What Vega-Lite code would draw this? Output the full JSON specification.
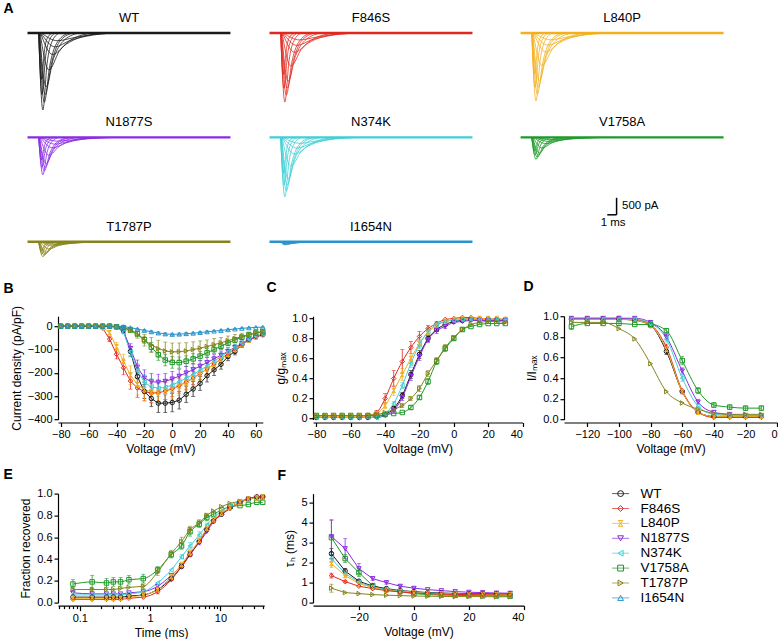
{
"$schema":"https://vega.github.io/schema/vega-lite/v6.json",
"background":"white",
"padding":{"left":3,"top":2,"right":0,"bottom":0},
"config":{"font":"Liberation Sans","view":{"stroke":null},
"axis":{"domainColor":"black","domainWidth":1.2,"tickColor":"black","tickWidth":1.2,"tickSize":4,"labelFontSize":11,"labelColor":"black","titleFontSize":12,"titleFontWeight":"normal","titleColor":"black","grid":false,"labelPadding":2,"titlePadding":4,"labelFont":"Liberation Sans","titleFont":"Liberation Sans"},
"title":{"fontSize":14,"fontWeight":"bold","anchor":"start","frame":"group","color":"black","font":"Liberation Sans"}},
"title":{"text":"A","dx":-54.5,"offset":-4},
"columns":3,
"align":{"row":"each","column":"none"},
"bounds":"flush",
"spacing":{"row":73.4,"column":40},
"datasets":{
"base":[{"g":"WT","t":0,"t2":21.8,"i":0},{"g":"F846S","t":0,"t2":21.8,"i":0},{"g":"L840P","t":0,"t2":21.8,"i":0},{"g":"N1877S","t":0,"t2":21.8,"i":0},{"g":"N374K","t":0,"t2":21.8,"i":0},{"g":"V1758A","t":0,"t2":21.8,"i":0},{"g":"T1787P","t":0,"t2":21.8,"i":0},{"g":"I1654N","t":0,"t2":21.8,"i":0}],
"sb":[{"t":9.31,"t2":10.31,"i":794,"i2":794},{"t":10.31,"t2":10.31,"i":794,"i2":1294}],
"sbt":[{"t":10.9,"i":1059,"label":"500 pA"},{"t":8.6,"i":559,"label":"1 ms"}],
"names":[{"g":"WT"},{"g":"F846S"},{"g":"L840P"},{"g":"N1877S"},{"g":"N374K"},{"g":"V1758A"},{"g":"T1787P"},{"g":"I1654N"}],
"tr":[
{"g":"WT","k":"a","t":1.2,"i":0},{"g":"WT","k":"a","t":1.65,"i":-2265},{"g":"WT","k":"a","t":2.1,"i":-906},{"g":"WT","k":"a","t":2.6,"i":-272},{"g":"WT","k":"a","t":3.4,"i":0},
{"g":"WT","k":"b","t":1.2,"i":0},{"g":"WT","k":"b","t":1.55,"i":-1812},{"g":"WT","k":"b","t":1.95,"i":-680},{"g":"WT","k":"b","t":2.4,"i":-181},{"g":"WT","k":"b","t":3.0,"i":0},
{"g":"WT","k":"c","t":1.25,"i":0},{"g":"WT","k":"c","t":1.8,"i":-2039},{"g":"WT","k":"c","t":2.4,"i":-951},{"g":"WT","k":"c","t":3.1,"i":-317},{"g":"WT","k":"c","t":4.4,"i":0},
{"g":"WT","k":"d","t":1.3,"i":0},{"g":"WT","k":"d","t":2.0,"i":-1586},{"g":"WT","k":"d","t":2.8,"i":-747},{"g":"WT","k":"d","t":3.8,"i":-249},{"g":"WT","k":"d","t":5.5,"i":0},
{"g":"WT","k":"e","t":1.35,"i":0},{"g":"WT","k":"e","t":2.3,"i":-1087},{"g":"WT","k":"e","t":3.4,"i":-544},{"g":"WT","k":"e","t":4.8,"i":-181},{"g":"WT","k":"e","t":7.0,"i":0},
{"g":"WT","k":"f","t":1.4,"i":0},{"g":"WT","k":"f","t":2.7,"i":-634},{"g":"WT","k":"f","t":4.1,"i":-340},{"g":"WT","k":"f","t":5.8,"i":-113},{"g":"WT","k":"f","t":8.5,"i":0},
{"g":"WT","k":"g","t":1.5,"i":0},{"g":"WT","k":"g","t":3.2,"i":-227},{"g":"WT","k":"g","t":5.0,"i":-136},{"g":"WT","k":"g","t":7.0,"i":-45},{"g":"WT","k":"g","t":10,"i":0},
{"g":"WT","k":"h","t":1.2,"i":0},{"g":"WT","k":"h","t":1.5,"i":-1359},{"g":"WT","k":"h","t":1.85,"i":-453},{"g":"WT","k":"h","t":2.2,"i":-113},{"g":"WT","k":"h","t":2.7,"i":0},
{"g":"WT","k":"i","t":1.28,"i":0},{"g":"WT","k":"i","t":1.9,"i":-1812},{"g":"WT","k":"i","t":2.6,"i":-861},{"g":"WT","k":"i","t":3.4,"i":-272},{"g":"WT","k":"i","t":4.8,"i":0},
{"g":"WT","k":"j","t":1.45,"i":0},{"g":"WT","k":"j","t":2.95,"i":-408},{"g":"WT","k":"j","t":4.5,"i":-227},{"g":"WT","k":"j","t":6.4,"i":-91},{"g":"WT","k":"j","t":9.2,"i":0},
{"g":"F846S","k":"a","t":1.2,"i":0},{"g":"F846S","k":"a","t":1.65,"i":-2030},{"g":"F846S","k":"a","t":2.1,"i":-812},{"g":"F846S","k":"a","t":2.6,"i":-244},{"g":"F846S","k":"a","t":3.4,"i":0},
{"g":"F846S","k":"b","t":1.2,"i":0},{"g":"F846S","k":"b","t":1.55,"i":-1624},{"g":"F846S","k":"b","t":1.95,"i":-609},{"g":"F846S","k":"b","t":2.4,"i":-162},{"g":"F846S","k":"b","t":3.0,"i":0},
{"g":"F846S","k":"c","t":1.25,"i":0},{"g":"F846S","k":"c","t":1.8,"i":-1827},{"g":"F846S","k":"c","t":2.4,"i":-853},{"g":"F846S","k":"c","t":3.1,"i":-284},{"g":"F846S","k":"c","t":4.4,"i":0},
{"g":"F846S","k":"d","t":1.3,"i":0},{"g":"F846S","k":"d","t":2.0,"i":-1421},{"g":"F846S","k":"d","t":2.8,"i":-670},{"g":"F846S","k":"d","t":3.8,"i":-223},{"g":"F846S","k":"d","t":5.5,"i":0},
{"g":"F846S","k":"e","t":1.35,"i":0},{"g":"F846S","k":"e","t":2.3,"i":-974},{"g":"F846S","k":"e","t":3.4,"i":-487},{"g":"F846S","k":"e","t":4.8,"i":-162},{"g":"F846S","k":"e","t":7.0,"i":0},
{"g":"F846S","k":"f","t":1.4,"i":0},{"g":"F846S","k":"f","t":2.7,"i":-568},{"g":"F846S","k":"f","t":4.1,"i":-305},{"g":"F846S","k":"f","t":5.8,"i":-102},{"g":"F846S","k":"f","t":8.5,"i":0},
{"g":"F846S","k":"g","t":1.5,"i":0},{"g":"F846S","k":"g","t":3.2,"i":-203},{"g":"F846S","k":"g","t":5.0,"i":-122},{"g":"F846S","k":"g","t":7.0,"i":-41},{"g":"F846S","k":"g","t":10,"i":0},
{"g":"F846S","k":"h","t":1.2,"i":0},{"g":"F846S","k":"h","t":1.5,"i":-1218},{"g":"F846S","k":"h","t":1.85,"i":-406},{"g":"F846S","k":"h","t":2.2,"i":-102},{"g":"F846S","k":"h","t":2.7,"i":0},
{"g":"F846S","k":"i","t":1.28,"i":0},{"g":"F846S","k":"i","t":1.9,"i":-1624},{"g":"F846S","k":"i","t":2.6,"i":-771},{"g":"F846S","k":"i","t":3.4,"i":-244},{"g":"F846S","k":"i","t":4.8,"i":0},
{"g":"F846S","k":"j","t":1.45,"i":0},{"g":"F846S","k":"j","t":2.95,"i":-365},{"g":"F846S","k":"j","t":4.5,"i":-203},{"g":"F846S","k":"j","t":6.4,"i":-81},{"g":"F846S","k":"j","t":9.2,"i":0},
{"g":"L840P","k":"a","t":1.2,"i":0},{"g":"L840P","k":"a","t":1.65,"i":-2000},{"g":"L840P","k":"a","t":2.1,"i":-800},{"g":"L840P","k":"a","t":2.6,"i":-240},{"g":"L840P","k":"a","t":3.4,"i":0},
{"g":"L840P","k":"b","t":1.2,"i":0},{"g":"L840P","k":"b","t":1.55,"i":-1600},{"g":"L840P","k":"b","t":1.95,"i":-600},{"g":"L840P","k":"b","t":2.4,"i":-160},{"g":"L840P","k":"b","t":3.0,"i":0},
{"g":"L840P","k":"c","t":1.25,"i":0},{"g":"L840P","k":"c","t":1.8,"i":-1800},{"g":"L840P","k":"c","t":2.4,"i":-840},{"g":"L840P","k":"c","t":3.1,"i":-280},{"g":"L840P","k":"c","t":4.4,"i":0},
{"g":"L840P","k":"d","t":1.3,"i":0},{"g":"L840P","k":"d","t":2.0,"i":-1400},{"g":"L840P","k":"d","t":2.8,"i":-660},{"g":"L840P","k":"d","t":3.8,"i":-220},{"g":"L840P","k":"d","t":5.5,"i":0},
{"g":"L840P","k":"e","t":1.35,"i":0},{"g":"L840P","k":"e","t":2.3,"i":-960},{"g":"L840P","k":"e","t":3.4,"i":-480},{"g":"L840P","k":"e","t":4.8,"i":-160},{"g":"L840P","k":"e","t":7.0,"i":0},
{"g":"L840P","k":"f","t":1.4,"i":0},{"g":"L840P","k":"f","t":2.7,"i":-560},{"g":"L840P","k":"f","t":4.1,"i":-300},{"g":"L840P","k":"f","t":5.8,"i":-100},{"g":"L840P","k":"f","t":8.5,"i":0},
{"g":"L840P","k":"g","t":1.5,"i":0},{"g":"L840P","k":"g","t":3.2,"i":-200},{"g":"L840P","k":"g","t":5.0,"i":-120},{"g":"L840P","k":"g","t":7.0,"i":-40},{"g":"L840P","k":"g","t":10,"i":0},
{"g":"L840P","k":"h","t":1.2,"i":0},{"g":"L840P","k":"h","t":1.5,"i":-1200},{"g":"L840P","k":"h","t":1.85,"i":-400},{"g":"L840P","k":"h","t":2.2,"i":-100},{"g":"L840P","k":"h","t":2.7,"i":0},
{"g":"L840P","k":"i","t":1.28,"i":0},{"g":"L840P","k":"i","t":1.9,"i":-1600},{"g":"L840P","k":"i","t":2.6,"i":-760},{"g":"L840P","k":"i","t":3.4,"i":-240},{"g":"L840P","k":"i","t":4.8,"i":0},
{"g":"L840P","k":"j","t":1.45,"i":0},{"g":"L840P","k":"j","t":2.95,"i":-360},{"g":"L840P","k":"j","t":4.5,"i":-200},{"g":"L840P","k":"j","t":6.4,"i":-80},{"g":"L840P","k":"j","t":9.2,"i":0},
{"g":"N1877S","k":"a","t":1.2,"i":0},{"g":"N1877S","k":"a","t":1.65,"i":-1100},{"g":"N1877S","k":"a","t":2.1,"i":-440},{"g":"N1877S","k":"a","t":2.6,"i":-132},{"g":"N1877S","k":"a","t":3.4,"i":0},
{"g":"N1877S","k":"b","t":1.2,"i":0},{"g":"N1877S","k":"b","t":1.55,"i":-880},{"g":"N1877S","k":"b","t":1.95,"i":-330},{"g":"N1877S","k":"b","t":2.4,"i":-88},{"g":"N1877S","k":"b","t":3.0,"i":0},
{"g":"N1877S","k":"c","t":1.25,"i":0},{"g":"N1877S","k":"c","t":1.8,"i":-990},{"g":"N1877S","k":"c","t":2.4,"i":-462},{"g":"N1877S","k":"c","t":3.1,"i":-154},{"g":"N1877S","k":"c","t":4.4,"i":0},
{"g":"N1877S","k":"d","t":1.3,"i":0},{"g":"N1877S","k":"d","t":2.0,"i":-770},{"g":"N1877S","k":"d","t":2.8,"i":-363},{"g":"N1877S","k":"d","t":3.8,"i":-121},{"g":"N1877S","k":"d","t":5.5,"i":0},
{"g":"N1877S","k":"e","t":1.35,"i":0},{"g":"N1877S","k":"e","t":2.3,"i":-528},{"g":"N1877S","k":"e","t":3.4,"i":-264},{"g":"N1877S","k":"e","t":4.8,"i":-88},{"g":"N1877S","k":"e","t":7.0,"i":0},
{"g":"N1877S","k":"f","t":1.4,"i":0},{"g":"N1877S","k":"f","t":2.7,"i":-308},{"g":"N1877S","k":"f","t":4.1,"i":-165},{"g":"N1877S","k":"f","t":5.8,"i":-55},{"g":"N1877S","k":"f","t":8.5,"i":0},
{"g":"N1877S","k":"g","t":1.5,"i":0},{"g":"N1877S","k":"g","t":3.2,"i":-110},{"g":"N1877S","k":"g","t":5.0,"i":-66},{"g":"N1877S","k":"g","t":7.0,"i":-22},{"g":"N1877S","k":"g","t":10,"i":0},
{"g":"N1877S","k":"h","t":1.2,"i":0},{"g":"N1877S","k":"h","t":1.5,"i":-660},{"g":"N1877S","k":"h","t":1.85,"i":-220},{"g":"N1877S","k":"h","t":2.2,"i":-55},{"g":"N1877S","k":"h","t":2.7,"i":0},
{"g":"N1877S","k":"i","t":1.28,"i":0},{"g":"N1877S","k":"i","t":1.9,"i":-880},{"g":"N1877S","k":"i","t":2.6,"i":-418},{"g":"N1877S","k":"i","t":3.4,"i":-132},{"g":"N1877S","k":"i","t":4.8,"i":0},
{"g":"N1877S","k":"j","t":1.45,"i":0},{"g":"N1877S","k":"j","t":2.95,"i":-198},{"g":"N1877S","k":"j","t":4.5,"i":-110},{"g":"N1877S","k":"j","t":6.4,"i":-44},{"g":"N1877S","k":"j","t":9.2,"i":0},
{"g":"N374K","k":"a","t":1.2,"i":0},{"g":"N374K","k":"a","t":1.65,"i":-1750},{"g":"N374K","k":"a","t":2.1,"i":-700},{"g":"N374K","k":"a","t":2.6,"i":-210},{"g":"N374K","k":"a","t":3.4,"i":0},
{"g":"N374K","k":"b","t":1.2,"i":0},{"g":"N374K","k":"b","t":1.55,"i":-1400},{"g":"N374K","k":"b","t":1.95,"i":-525},{"g":"N374K","k":"b","t":2.4,"i":-140},{"g":"N374K","k":"b","t":3.0,"i":0},
{"g":"N374K","k":"c","t":1.25,"i":0},{"g":"N374K","k":"c","t":1.8,"i":-1575},{"g":"N374K","k":"c","t":2.4,"i":-735},{"g":"N374K","k":"c","t":3.1,"i":-245},{"g":"N374K","k":"c","t":4.4,"i":0},
{"g":"N374K","k":"d","t":1.3,"i":0},{"g":"N374K","k":"d","t":2.0,"i":-1225},{"g":"N374K","k":"d","t":2.8,"i":-578},{"g":"N374K","k":"d","t":3.8,"i":-193},{"g":"N374K","k":"d","t":5.5,"i":0},
{"g":"N374K","k":"e","t":1.35,"i":0},{"g":"N374K","k":"e","t":2.3,"i":-840},{"g":"N374K","k":"e","t":3.4,"i":-420},{"g":"N374K","k":"e","t":4.8,"i":-140},{"g":"N374K","k":"e","t":7.0,"i":0},
{"g":"N374K","k":"f","t":1.4,"i":0},{"g":"N374K","k":"f","t":2.7,"i":-490},{"g":"N374K","k":"f","t":4.1,"i":-263},{"g":"N374K","k":"f","t":5.8,"i":-88},{"g":"N374K","k":"f","t":8.5,"i":0},
{"g":"N374K","k":"g","t":1.5,"i":0},{"g":"N374K","k":"g","t":3.2,"i":-175},{"g":"N374K","k":"g","t":5.0,"i":-105},{"g":"N374K","k":"g","t":7.0,"i":-35},{"g":"N374K","k":"g","t":10,"i":0},
{"g":"N374K","k":"h","t":1.2,"i":0},{"g":"N374K","k":"h","t":1.5,"i":-1050},{"g":"N374K","k":"h","t":1.85,"i":-350},{"g":"N374K","k":"h","t":2.2,"i":-88},{"g":"N374K","k":"h","t":2.7,"i":0},
{"g":"N374K","k":"i","t":1.28,"i":0},{"g":"N374K","k":"i","t":1.9,"i":-1400},{"g":"N374K","k":"i","t":2.6,"i":-665},{"g":"N374K","k":"i","t":3.4,"i":-210},{"g":"N374K","k":"i","t":4.8,"i":0},
{"g":"N374K","k":"j","t":1.45,"i":0},{"g":"N374K","k":"j","t":2.95,"i":-315},{"g":"N374K","k":"j","t":4.5,"i":-175},{"g":"N374K","k":"j","t":6.4,"i":-70},{"g":"N374K","k":"j","t":9.2,"i":0},
{"g":"V1758A","k":"a","t":1.2,"i":0},{"g":"V1758A","k":"a","t":1.65,"i":-650},{"g":"V1758A","k":"a","t":2.1,"i":-260},{"g":"V1758A","k":"a","t":2.6,"i":-78},{"g":"V1758A","k":"a","t":3.4,"i":0},
{"g":"V1758A","k":"b","t":1.2,"i":0},{"g":"V1758A","k":"b","t":1.55,"i":-520},{"g":"V1758A","k":"b","t":1.95,"i":-195},{"g":"V1758A","k":"b","t":2.4,"i":-52},{"g":"V1758A","k":"b","t":3.0,"i":0},
{"g":"V1758A","k":"c","t":1.25,"i":0},{"g":"V1758A","k":"c","t":1.8,"i":-585},{"g":"V1758A","k":"c","t":2.4,"i":-273},{"g":"V1758A","k":"c","t":3.1,"i":-91},{"g":"V1758A","k":"c","t":4.4,"i":0},
{"g":"V1758A","k":"d","t":1.3,"i":0},{"g":"V1758A","k":"d","t":2.0,"i":-455},{"g":"V1758A","k":"d","t":2.8,"i":-215},{"g":"V1758A","k":"d","t":3.8,"i":-72},{"g":"V1758A","k":"d","t":5.5,"i":0},
{"g":"V1758A","k":"e","t":1.35,"i":0},{"g":"V1758A","k":"e","t":2.3,"i":-312},{"g":"V1758A","k":"e","t":3.4,"i":-156},{"g":"V1758A","k":"e","t":4.8,"i":-52},{"g":"V1758A","k":"e","t":7.0,"i":0},
{"g":"V1758A","k":"f","t":1.4,"i":0},{"g":"V1758A","k":"f","t":2.7,"i":-182},{"g":"V1758A","k":"f","t":4.1,"i":-98},{"g":"V1758A","k":"f","t":5.8,"i":-33},{"g":"V1758A","k":"f","t":8.5,"i":0},
{"g":"V1758A","k":"g","t":1.5,"i":0},{"g":"V1758A","k":"g","t":3.2,"i":-65},{"g":"V1758A","k":"g","t":5.0,"i":-39},{"g":"V1758A","k":"g","t":7.0,"i":-13},{"g":"V1758A","k":"g","t":10,"i":0},
{"g":"V1758A","k":"h","t":1.2,"i":0},{"g":"V1758A","k":"h","t":1.5,"i":-390},{"g":"V1758A","k":"h","t":1.85,"i":-130},{"g":"V1758A","k":"h","t":2.2,"i":-33},{"g":"V1758A","k":"h","t":2.7,"i":0},
{"g":"V1758A","k":"i","t":1.28,"i":0},{"g":"V1758A","k":"i","t":1.9,"i":-520},{"g":"V1758A","k":"i","t":2.6,"i":-247},{"g":"V1758A","k":"i","t":3.4,"i":-78},{"g":"V1758A","k":"i","t":4.8,"i":0},
{"g":"V1758A","k":"j","t":1.45,"i":0},{"g":"V1758A","k":"j","t":2.95,"i":-117},{"g":"V1758A","k":"j","t":4.5,"i":-65},{"g":"V1758A","k":"j","t":6.4,"i":-26},{"g":"V1758A","k":"j","t":9.2,"i":0},
{"g":"T1787P","k":"a","t":1.2,"i":0},{"g":"T1787P","k":"a","t":1.65,"i":-440},{"g":"T1787P","k":"a","t":2.1,"i":-176},{"g":"T1787P","k":"a","t":2.6,"i":-53},{"g":"T1787P","k":"a","t":3.4,"i":0},
{"g":"T1787P","k":"b","t":1.2,"i":0},{"g":"T1787P","k":"b","t":1.55,"i":-352},{"g":"T1787P","k":"b","t":1.95,"i":-132},{"g":"T1787P","k":"b","t":2.4,"i":-35},{"g":"T1787P","k":"b","t":3.0,"i":0},
{"g":"T1787P","k":"c","t":1.25,"i":0},{"g":"T1787P","k":"c","t":1.8,"i":-396},{"g":"T1787P","k":"c","t":2.4,"i":-185},{"g":"T1787P","k":"c","t":3.1,"i":-62},{"g":"T1787P","k":"c","t":4.4,"i":0},
{"g":"T1787P","k":"d","t":1.3,"i":0},{"g":"T1787P","k":"d","t":2.0,"i":-308},{"g":"T1787P","k":"d","t":2.8,"i":-145},{"g":"T1787P","k":"d","t":3.8,"i":-48},{"g":"T1787P","k":"d","t":5.5,"i":0},
{"g":"T1787P","k":"e","t":1.35,"i":0},{"g":"T1787P","k":"e","t":2.3,"i":-211},{"g":"T1787P","k":"e","t":3.4,"i":-106},{"g":"T1787P","k":"e","t":4.8,"i":-35},{"g":"T1787P","k":"e","t":7.0,"i":0},
{"g":"T1787P","k":"f","t":1.4,"i":0},{"g":"T1787P","k":"f","t":2.7,"i":-123},{"g":"T1787P","k":"f","t":4.1,"i":-66},{"g":"T1787P","k":"f","t":5.8,"i":-22},{"g":"T1787P","k":"f","t":8.5,"i":0},
{"g":"T1787P","k":"g","t":1.5,"i":0},{"g":"T1787P","k":"g","t":3.2,"i":-44},{"g":"T1787P","k":"g","t":5.0,"i":-26},{"g":"T1787P","k":"g","t":7.0,"i":-9},{"g":"T1787P","k":"g","t":10,"i":0},
{"g":"T1787P","k":"h","t":1.2,"i":0},{"g":"T1787P","k":"h","t":1.5,"i":-264},{"g":"T1787P","k":"h","t":1.85,"i":-88},{"g":"T1787P","k":"h","t":2.2,"i":-22},{"g":"T1787P","k":"h","t":2.7,"i":0},
{"g":"T1787P","k":"i","t":1.28,"i":0},{"g":"T1787P","k":"i","t":1.9,"i":-352},{"g":"T1787P","k":"i","t":2.6,"i":-167},{"g":"T1787P","k":"i","t":3.4,"i":-53},{"g":"T1787P","k":"i","t":4.8,"i":0},
{"g":"T1787P","k":"j","t":1.45,"i":0},{"g":"T1787P","k":"j","t":2.95,"i":-79},{"g":"T1787P","k":"j","t":4.5,"i":-44},{"g":"T1787P","k":"j","t":6.4,"i":-18},{"g":"T1787P","k":"j","t":9.2,"i":0},
{"g":"I1654N","k":"a","t":1.2,"i":0},{"g":"I1654N","k":"a","t":1.65,"i":-90},{"g":"I1654N","k":"a","t":2.1,"i":-36},{"g":"I1654N","k":"a","t":2.6,"i":-11},{"g":"I1654N","k":"a","t":3.4,"i":0},
{"g":"I1654N","k":"b","t":1.2,"i":0},{"g":"I1654N","k":"b","t":1.55,"i":-72},{"g":"I1654N","k":"b","t":1.95,"i":-27},{"g":"I1654N","k":"b","t":2.4,"i":-7},{"g":"I1654N","k":"b","t":3.0,"i":0},
{"g":"I1654N","k":"c","t":1.25,"i":0},{"g":"I1654N","k":"c","t":1.8,"i":-81},{"g":"I1654N","k":"c","t":2.4,"i":-38},{"g":"I1654N","k":"c","t":3.1,"i":-13},{"g":"I1654N","k":"c","t":4.4,"i":0},
{"g":"I1654N","k":"d","t":1.3,"i":0},{"g":"I1654N","k":"d","t":2.0,"i":-63},{"g":"I1654N","k":"d","t":2.8,"i":-30},{"g":"I1654N","k":"d","t":3.8,"i":-10},{"g":"I1654N","k":"d","t":5.5,"i":0},
{"g":"I1654N","k":"e","t":1.35,"i":0},{"g":"I1654N","k":"e","t":2.3,"i":-43},{"g":"I1654N","k":"e","t":3.4,"i":-22},{"g":"I1654N","k":"e","t":4.8,"i":-7},{"g":"I1654N","k":"e","t":7.0,"i":0},
{"g":"I1654N","k":"f","t":1.4,"i":0},{"g":"I1654N","k":"f","t":2.7,"i":-25},{"g":"I1654N","k":"f","t":4.1,"i":-13},{"g":"I1654N","k":"f","t":5.8,"i":-4},{"g":"I1654N","k":"f","t":8.5,"i":0},
{"g":"I1654N","k":"h","t":1.2,"i":0},{"g":"I1654N","k":"h","t":1.5,"i":-54},{"g":"I1654N","k":"h","t":1.85,"i":-18},{"g":"I1654N","k":"h","t":2.2,"i":-5},{"g":"I1654N","k":"h","t":2.7,"i":0},
{"g":"I1654N","k":"i","t":1.28,"i":0},{"g":"I1654N","k":"i","t":1.9,"i":-72},{"g":"I1654N","k":"i","t":2.6,"i":-34},{"g":"I1654N","k":"i","t":3.4,"i":-11},{"g":"I1654N","k":"i","t":4.8,"i":0}
],
"iv":[
{"g":"WT","v":-80,"y":0,"e":0},{"g":"WT","v":-75,"y":0,"e":0},{"g":"WT","v":-70,"y":0,"e":0},{"g":"WT","v":-65,"y":0,"e":0},{"g":"WT","v":-60,"y":0,"e":0},{"g":"WT","v":-55,"y":0,"e":0},{"g":"WT","v":-50,"y":0,"e":0},{"g":"WT","v":-45,"y":0,"e":0},{"g":"WT","v":-40,"y":-3,"e":2},{"g":"WT","v":-35,"y":-19,"e":8},{"g":"WT","v":-30,"y":-108,"e":20},{"g":"WT","v":-25,"y":-216,"e":25},{"g":"WT","v":-20,"y":-280,"e":30},{"g":"WT","v":-15,"y":-310,"e":35},{"g":"WT","v":-10,"y":-330,"e":40},{"g":"WT","v":-5,"y":-330,"e":40},{"g":"WT","v":0,"y":-327,"e":40},{"g":"WT","v":5,"y":-317,"e":38},{"g":"WT","v":10,"y":-292,"e":35},{"g":"WT","v":15,"y":-269,"e":32},{"g":"WT","v":20,"y":-245,"e":30},{"g":"WT","v":25,"y":-212,"e":27},{"g":"WT","v":30,"y":-187,"e":24},{"g":"WT","v":35,"y":-163,"e":21},{"g":"WT","v":40,"y":-130,"e":18},{"g":"WT","v":45,"y":-108,"e":15},{"g":"WT","v":50,"y":-79,"e":12},{"g":"WT","v":55,"y":-58,"e":10},{"g":"WT","v":60,"y":-43,"e":8},{"g":"WT","v":65,"y":-36,"e":7},
{"g":"F846S","v":-80,"y":0,"e":0},{"g":"F846S","v":-75,"y":0,"e":0},{"g":"F846S","v":-70,"y":0,"e":0},{"g":"F846S","v":-65,"y":0,"e":0},{"g":"F846S","v":-60,"y":0,"e":0},{"g":"F846S","v":-55,"y":0,"e":0},{"g":"F846S","v":-50,"y":-8,"e":3},{"g":"F846S","v":-45,"y":-55,"e":10},{"g":"F846S","v":-40,"y":-120,"e":20},{"g":"F846S","v":-35,"y":-178,"e":30},{"g":"F846S","v":-30,"y":-235,"e":35},{"g":"F846S","v":-25,"y":-265,"e":40},{"g":"F846S","v":-20,"y":-280,"e":40},{"g":"F846S","v":-15,"y":-287,"e":40},{"g":"F846S","v":-10,"y":-285,"e":38},{"g":"F846S","v":-5,"y":-278,"e":36},{"g":"F846S","v":0,"y":-268,"e":34},{"g":"F846S","v":5,"y":-255,"e":32},{"g":"F846S","v":10,"y":-240,"e":30},{"g":"F846S","v":15,"y":-222,"e":28},{"g":"F846S","v":20,"y":-203,"e":26},{"g":"F846S","v":25,"y":-183,"e":24},{"g":"F846S","v":30,"y":-162,"e":22},{"g":"F846S","v":35,"y":-140,"e":20},{"g":"F846S","v":40,"y":-118,"e":17},{"g":"F846S","v":45,"y":-97,"e":15},{"g":"F846S","v":50,"y":-77,"e":12},{"g":"F846S","v":55,"y":-58,"e":10},{"g":"F846S","v":60,"y":-45,"e":8},{"g":"F846S","v":65,"y":-35,"e":7},
{"g":"L840P","v":-80,"y":0,"e":0},{"g":"L840P","v":-75,"y":0,"e":0},{"g":"L840P","v":-70,"y":0,"e":0},{"g":"L840P","v":-65,"y":0,"e":0},{"g":"L840P","v":-60,"y":0,"e":0},{"g":"L840P","v":-55,"y":0,"e":0},{"g":"L840P","v":-50,"y":-4,"e":2},{"g":"L840P","v":-45,"y":-28,"e":8},{"g":"L840P","v":-40,"y":-88,"e":18},{"g":"L840P","v":-35,"y":-150,"e":30},{"g":"L840P","v":-30,"y":-210,"e":40},{"g":"L840P","v":-25,"y":-250,"e":45},{"g":"L840P","v":-20,"y":-272,"e":48},{"g":"L840P","v":-15,"y":-282,"e":48},{"g":"L840P","v":-10,"y":-283,"e":46},{"g":"L840P","v":-5,"y":-278,"e":44},{"g":"L840P","v":0,"y":-270,"e":42},{"g":"L840P","v":5,"y":-256,"e":40},{"g":"L840P","v":10,"y":-240,"e":37},{"g":"L840P","v":15,"y":-222,"e":34},{"g":"L840P","v":20,"y":-203,"e":31},{"g":"L840P","v":25,"y":-183,"e":28},{"g":"L840P","v":30,"y":-163,"e":25},{"g":"L840P","v":35,"y":-142,"e":22},{"g":"L840P","v":40,"y":-120,"e":19},{"g":"L840P","v":45,"y":-99,"e":16},{"g":"L840P","v":50,"y":-79,"e":13},{"g":"L840P","v":55,"y":-60,"e":10},{"g":"L840P","v":60,"y":-46,"e":8},{"g":"L840P","v":65,"y":-36,"e":7},
{"g":"N1877S","v":-80,"y":0,"e":0},{"g":"N1877S","v":-75,"y":0,"e":0},{"g":"N1877S","v":-70,"y":0,"e":0},{"g":"N1877S","v":-65,"y":0,"e":0},{"g":"N1877S","v":-60,"y":0,"e":0},{"g":"N1877S","v":-55,"y":0,"e":0},{"g":"N1877S","v":-50,"y":0,"e":0},{"g":"N1877S","v":-45,"y":0,"e":0},{"g":"N1877S","v":-40,"y":-4,"e":2},{"g":"N1877S","v":-35,"y":-22,"e":8},{"g":"N1877S","v":-30,"y":-95,"e":20},{"g":"N1877S","v":-25,"y":-175,"e":30},{"g":"N1877S","v":-20,"y":-222,"e":35},{"g":"N1877S","v":-15,"y":-238,"e":35},{"g":"N1877S","v":-10,"y":-240,"e":34},{"g":"N1877S","v":-5,"y":-236,"e":33},{"g":"N1877S","v":0,"y":-226,"e":32},{"g":"N1877S","v":5,"y":-214,"e":30},{"g":"N1877S","v":10,"y":-200,"e":28},{"g":"N1877S","v":15,"y":-186,"e":26},{"g":"N1877S","v":20,"y":-171,"e":24},{"g":"N1877S","v":25,"y":-156,"e":22},{"g":"N1877S","v":30,"y":-140,"e":20},{"g":"N1877S","v":35,"y":-124,"e":18},{"g":"N1877S","v":40,"y":-108,"e":16},{"g":"N1877S","v":45,"y":-91,"e":14},{"g":"N1877S","v":50,"y":-75,"e":12},{"g":"N1877S","v":55,"y":-60,"e":10},{"g":"N1877S","v":60,"y":-47,"e":8},{"g":"N1877S","v":65,"y":-36,"e":7},
{"g":"N374K","v":-80,"y":0,"e":0},{"g":"N374K","v":-75,"y":0,"e":0},{"g":"N374K","v":-70,"y":0,"e":0},{"g":"N374K","v":-65,"y":0,"e":0},{"g":"N374K","v":-60,"y":0,"e":0},{"g":"N374K","v":-55,"y":0,"e":0},{"g":"N374K","v":-50,"y":0,"e":0},{"g":"N374K","v":-45,"y":0,"e":0},{"g":"N374K","v":-40,"y":-4,"e":2},{"g":"N374K","v":-35,"y":-25,"e":8},{"g":"N374K","v":-30,"y":-110,"e":22},{"g":"N374K","v":-25,"y":-190,"e":30},{"g":"N374K","v":-20,"y":-240,"e":34},{"g":"N374K","v":-15,"y":-260,"e":35},{"g":"N374K","v":-10,"y":-266,"e":35},{"g":"N374K","v":-5,"y":-262,"e":34},{"g":"N374K","v":0,"y":-252,"e":33},{"g":"N374K","v":5,"y":-238,"e":31},{"g":"N374K","v":10,"y":-223,"e":29},{"g":"N374K","v":15,"y":-207,"e":27},{"g":"N374K","v":20,"y":-189,"e":25},{"g":"N374K","v":25,"y":-170,"e":23},{"g":"N374K","v":30,"y":-150,"e":21},{"g":"N374K","v":35,"y":-130,"e":19},{"g":"N374K","v":40,"y":-110,"e":17},{"g":"N374K","v":45,"y":-91,"e":14},{"g":"N374K","v":50,"y":-72,"e":12},{"g":"N374K","v":55,"y":-56,"e":10},{"g":"N374K","v":60,"y":-43,"e":8},{"g":"N374K","v":65,"y":-33,"e":6},
{"g":"V1758A","v":-80,"y":0,"e":0},{"g":"V1758A","v":-75,"y":0,"e":0},{"g":"V1758A","v":-70,"y":0,"e":0},{"g":"V1758A","v":-65,"y":0,"e":0},{"g":"V1758A","v":-60,"y":0,"e":0},{"g":"V1758A","v":-55,"y":0,"e":0},{"g":"V1758A","v":-50,"y":0,"e":0},{"g":"V1758A","v":-45,"y":0,"e":0},{"g":"V1758A","v":-40,"y":-2,"e":1},{"g":"V1758A","v":-35,"y":-6,"e":3},{"g":"V1758A","v":-30,"y":-16,"e":6},{"g":"V1758A","v":-25,"y":-32,"e":10},{"g":"V1758A","v":-20,"y":-58,"e":15},{"g":"V1758A","v":-15,"y":-90,"e":20},{"g":"V1758A","v":-10,"y":-122,"e":24},{"g":"V1758A","v":-5,"y":-145,"e":25},{"g":"V1758A","v":0,"y":-155,"e":25},{"g":"V1758A","v":5,"y":-156,"e":24},{"g":"V1758A","v":10,"y":-150,"e":23},{"g":"V1758A","v":15,"y":-140,"e":22},{"g":"V1758A","v":20,"y":-128,"e":20},{"g":"V1758A","v":25,"y":-114,"e":18},{"g":"V1758A","v":30,"y":-100,"e":16},{"g":"V1758A","v":35,"y":-86,"e":14},{"g":"V1758A","v":40,"y":-72,"e":12},{"g":"V1758A","v":45,"y":-59,"e":10},{"g":"V1758A","v":50,"y":-47,"e":8},{"g":"V1758A","v":55,"y":-37,"e":7},{"g":"V1758A","v":60,"y":-29,"e":6},{"g":"V1758A","v":65,"y":-23,"e":5},
{"g":"T1787P","v":-80,"y":0,"e":0},{"g":"T1787P","v":-75,"y":0,"e":0},{"g":"T1787P","v":-70,"y":0,"e":0},{"g":"T1787P","v":-65,"y":0,"e":0},{"g":"T1787P","v":-60,"y":0,"e":0},{"g":"T1787P","v":-55,"y":0,"e":0},{"g":"T1787P","v":-50,"y":0,"e":0},{"g":"T1787P","v":-45,"y":0,"e":0},{"g":"T1787P","v":-40,"y":-3,"e":2},{"g":"T1787P","v":-35,"y":-7,"e":4},{"g":"T1787P","v":-30,"y":-18,"e":8},{"g":"T1787P","v":-25,"y":-36,"e":15},{"g":"T1787P","v":-20,"y":-60,"e":25},{"g":"T1787P","v":-15,"y":-80,"e":32},{"g":"T1787P","v":-10,"y":-96,"e":36},{"g":"T1787P","v":-5,"y":-106,"e":38},{"g":"T1787P","v":0,"y":-110,"e":38},{"g":"T1787P","v":5,"y":-109,"e":37},{"g":"T1787P","v":10,"y":-106,"e":35},{"g":"T1787P","v":15,"y":-100,"e":33},{"g":"T1787P","v":20,"y":-94,"e":31},{"g":"T1787P","v":25,"y":-87,"e":28},{"g":"T1787P","v":30,"y":-79,"e":26},{"g":"T1787P","v":35,"y":-71,"e":23},{"g":"T1787P","v":40,"y":-62,"e":20},{"g":"T1787P","v":45,"y":-53,"e":17},{"g":"T1787P","v":50,"y":-44,"e":14},{"g":"T1787P","v":55,"y":-36,"e":11},{"g":"T1787P","v":60,"y":-29,"e":9},{"g":"T1787P","v":65,"y":-23,"e":7},
{"g":"I1654N","v":-80,"y":0,"e":0},{"g":"I1654N","v":-75,"y":0,"e":0},{"g":"I1654N","v":-70,"y":0,"e":0},{"g":"I1654N","v":-65,"y":0,"e":0},{"g":"I1654N","v":-60,"y":0,"e":0},{"g":"I1654N","v":-55,"y":0,"e":0},{"g":"I1654N","v":-50,"y":0,"e":0},{"g":"I1654N","v":-45,"y":0,"e":0},{"g":"I1654N","v":-40,"y":0,"e":0},{"g":"I1654N","v":-35,"y":-2,"e":1},{"g":"I1654N","v":-30,"y":-6,"e":2},{"g":"I1654N","v":-25,"y":-12,"e":3},{"g":"I1654N","v":-20,"y":-18,"e":4},{"g":"I1654N","v":-15,"y":-24,"e":5},{"g":"I1654N","v":-10,"y":-29,"e":5},{"g":"I1654N","v":-5,"y":-33,"e":5},{"g":"I1654N","v":0,"y":-35,"e":5},{"g":"I1654N","v":5,"y":-34,"e":5},{"g":"I1654N","v":10,"y":-32,"e":5},{"g":"I1654N","v":15,"y":-30,"e":4},{"g":"I1654N","v":20,"y":-27,"e":4},{"g":"I1654N","v":25,"y":-24,"e":4},{"g":"I1654N","v":30,"y":-21,"e":3},{"g":"I1654N","v":35,"y":-18,"e":3},{"g":"I1654N","v":40,"y":-15,"e":3},{"g":"I1654N","v":45,"y":-12,"e":2},{"g":"I1654N","v":50,"y":-9,"e":2},{"g":"I1654N","v":55,"y":-7,"e":2},{"g":"I1654N","v":60,"y":-5,"e":1},{"g":"I1654N","v":65,"y":-4,"e":1}
],
"act":[
{"g":"WT","v":-80,"y":0.01},{"g":"WT","v":-75,"y":0.01},{"g":"WT","v":-70,"y":0.01},{"g":"WT","v":-65,"y":0.01},{"g":"WT","v":-60,"y":0.01},{"g":"WT","v":-55,"y":0.01},{"g":"WT","v":-50,"y":0.01},{"g":"WT","v":-45,"y":0.02},{"g":"WT","v":-40,"y":0.04},{"g":"WT","v":-35,"y":0.1,"e":0.02},{"g":"WT","v":-30,"y":0.23,"e":0.03},{"g":"WT","v":-25,"y":0.44,"e":0.04},{"g":"WT","v":-20,"y":0.64,"e":0.04},{"g":"WT","v":-15,"y":0.8,"e":0.03},{"g":"WT","v":-10,"y":0.89,"e":0.02},{"g":"WT","v":-5,"y":0.94},{"g":"WT","v":0,"y":0.97},{"g":"WT","v":5,"y":0.98},{"g":"WT","v":10,"y":0.99},{"g":"WT","v":15,"y":0.99},{"g":"WT","v":20,"y":0.99},{"g":"WT","v":25,"y":0.99},{"g":"WT","v":30,"y":0.99},
{"g":"F846S","v":-80,"y":0.02},{"g":"F846S","v":-75,"y":0.02},{"g":"F846S","v":-70,"y":0.02},{"g":"F846S","v":-65,"y":0.02},{"g":"F846S","v":-60,"y":0.02},{"g":"F846S","v":-55,"y":0.02},{"g":"F846S","v":-50,"y":0.03},{"g":"F846S","v":-45,"y":0.06,"e":0.02},{"g":"F846S","v":-40,"y":0.2,"e":0.05},{"g":"F846S","v":-35,"y":0.4,"e":0.08},{"g":"F846S","v":-30,"y":0.57,"e":0.12},{"g":"F846S","v":-25,"y":0.71,"e":0.06},{"g":"F846S","v":-20,"y":0.82,"e":0.05},{"g":"F846S","v":-15,"y":0.9,"e":0.03},{"g":"F846S","v":-10,"y":0.95,"e":0.02},{"g":"F846S","v":-5,"y":0.99},{"g":"F846S","v":0,"y":1.0},{"g":"F846S","v":5,"y":1.01},{"g":"F846S","v":10,"y":1.01},{"g":"F846S","v":15,"y":1.0},{"g":"F846S","v":20,"y":1.0},{"g":"F846S","v":25,"y":0.99},{"g":"F846S","v":30,"y":0.99},
{"g":"L840P","v":-80,"y":0.02},{"g":"L840P","v":-75,"y":0.02},{"g":"L840P","v":-70,"y":0.02},{"g":"L840P","v":-65,"y":0.02},{"g":"L840P","v":-60,"y":0.02},{"g":"L840P","v":-55,"y":0.02},{"g":"L840P","v":-50,"y":0.03},{"g":"L840P","v":-45,"y":0.05},{"g":"L840P","v":-40,"y":0.13,"e":0.03},{"g":"L840P","v":-35,"y":0.28,"e":0.05},{"g":"L840P","v":-30,"y":0.44,"e":0.06},{"g":"L840P","v":-25,"y":0.6,"e":0.05},{"g":"L840P","v":-20,"y":0.75,"e":0.04},{"g":"L840P","v":-15,"y":0.86,"e":0.03},{"g":"L840P","v":-10,"y":0.93,"e":0.02},{"g":"L840P","v":-5,"y":0.97},{"g":"L840P","v":0,"y":0.99},{"g":"L840P","v":5,"y":1.0},{"g":"L840P","v":10,"y":1.0},{"g":"L840P","v":15,"y":1.0},{"g":"L840P","v":20,"y":1.0},{"g":"L840P","v":25,"y":1.0},{"g":"L840P","v":30,"y":0.99},
{"g":"N1877S","v":-80,"y":0.01},{"g":"N1877S","v":-75,"y":0.01},{"g":"N1877S","v":-70,"y":0.01},{"g":"N1877S","v":-65,"y":0.01},{"g":"N1877S","v":-60,"y":0.01},{"g":"N1877S","v":-55,"y":0.01},{"g":"N1877S","v":-50,"y":0.01},{"g":"N1877S","v":-45,"y":0.01},{"g":"N1877S","v":-40,"y":0.03},{"g":"N1877S","v":-35,"y":0.08,"e":0.02},{"g":"N1877S","v":-30,"y":0.21,"e":0.03},{"g":"N1877S","v":-25,"y":0.42,"e":0.04},{"g":"N1877S","v":-20,"y":0.62,"e":0.04},{"g":"N1877S","v":-15,"y":0.79,"e":0.03},{"g":"N1877S","v":-10,"y":0.88,"e":0.03},{"g":"N1877S","v":-5,"y":0.92,"e":0.02},{"g":"N1877S","v":0,"y":0.96},{"g":"N1877S","v":5,"y":0.97},{"g":"N1877S","v":10,"y":0.98},{"g":"N1877S","v":15,"y":0.98},{"g":"N1877S","v":20,"y":0.98},{"g":"N1877S","v":25,"y":0.98},{"g":"N1877S","v":30,"y":0.98},
{"g":"N374K","v":-80,"y":0.01},{"g":"N374K","v":-75,"y":0.01},{"g":"N374K","v":-70,"y":0.01},{"g":"N374K","v":-65,"y":0.01},{"g":"N374K","v":-60,"y":0.01},{"g":"N374K","v":-55,"y":0.01},{"g":"N374K","v":-50,"y":0.01},{"g":"N374K","v":-45,"y":0.01},{"g":"N374K","v":-40,"y":0.05},{"g":"N374K","v":-35,"y":0.15,"e":0.02},{"g":"N374K","v":-30,"y":0.33,"e":0.03},{"g":"N374K","v":-25,"y":0.55,"e":0.04},{"g":"N374K","v":-20,"y":0.74,"e":0.04},{"g":"N374K","v":-15,"y":0.87,"e":0.03},{"g":"N374K","v":-10,"y":0.94,"e":0.02},{"g":"N374K","v":-5,"y":0.97},{"g":"N374K","v":0,"y":0.98},{"g":"N374K","v":5,"y":0.99},{"g":"N374K","v":10,"y":0.99},{"g":"N374K","v":15,"y":0.99},{"g":"N374K","v":20,"y":0.99},{"g":"N374K","v":25,"y":0.99},{"g":"N374K","v":30,"y":0.99},
{"g":"V1758A","v":-80,"y":0.03},{"g":"V1758A","v":-75,"y":0.03},{"g":"V1758A","v":-70,"y":0.03},{"g":"V1758A","v":-65,"y":0.03},{"g":"V1758A","v":-60,"y":0.03},{"g":"V1758A","v":-55,"y":0.03},{"g":"V1758A","v":-50,"y":0.03},{"g":"V1758A","v":-45,"y":0.03},{"g":"V1758A","v":-40,"y":0.04},{"g":"V1758A","v":-35,"y":0.05},{"g":"V1758A","v":-30,"y":0.06},{"g":"V1758A","v":-25,"y":0.11,"e":0.02},{"g":"V1758A","v":-20,"y":0.21,"e":0.02},{"g":"V1758A","v":-15,"y":0.37,"e":0.03},{"g":"V1758A","v":-10,"y":0.57,"e":0.03},{"g":"V1758A","v":-5,"y":0.7,"e":0.03},{"g":"V1758A","v":0,"y":0.8,"e":0.02},{"g":"V1758A","v":5,"y":0.89,"e":0.02},{"g":"V1758A","v":10,"y":0.92},{"g":"V1758A","v":15,"y":0.94},{"g":"V1758A","v":20,"y":0.95},{"g":"V1758A","v":25,"y":0.95},{"g":"V1758A","v":30,"y":0.95},
{"g":"T1787P","v":-80,"y":0.03},{"g":"T1787P","v":-75,"y":0.03},{"g":"T1787P","v":-70,"y":0.03},{"g":"T1787P","v":-65,"y":0.03},{"g":"T1787P","v":-60,"y":0.03},{"g":"T1787P","v":-55,"y":0.03},{"g":"T1787P","v":-50,"y":0.03},{"g":"T1787P","v":-45,"y":0.04},{"g":"T1787P","v":-40,"y":0.06},{"g":"T1787P","v":-35,"y":0.09},{"g":"T1787P","v":-30,"y":0.13,"e":0.02},{"g":"T1787P","v":-25,"y":0.2,"e":0.02},{"g":"T1787P","v":-20,"y":0.3,"e":0.03},{"g":"T1787P","v":-15,"y":0.45,"e":0.03},{"g":"T1787P","v":-10,"y":0.58,"e":0.03},{"g":"T1787P","v":-5,"y":0.71,"e":0.03},{"g":"T1787P","v":0,"y":0.81,"e":0.02},{"g":"T1787P","v":5,"y":0.89},{"g":"T1787P","v":10,"y":0.94},{"g":"T1787P","v":15,"y":0.96},{"g":"T1787P","v":20,"y":0.97},{"g":"T1787P","v":25,"y":0.97},{"g":"T1787P","v":30,"y":0.96}
],
"inact":[
{"g":"WT","v":-130,"y":0.97},{"g":"WT","v":-120,"y":0.97},{"g":"WT","v":-110,"y":0.97},{"g":"WT","v":-100,"y":0.97},{"g":"WT","v":-90,"y":0.96},{"g":"WT","v":-80,"y":0.91},{"g":"WT","v":-70,"y":0.66,"e":0.03},{"g":"WT","v":-60,"y":0.27,"e":0.02},{"g":"WT","v":-50,"y":0.07},{"g":"WT","v":-40,"y":0.03},{"g":"WT","v":-30,"y":0.03},{"g":"WT","v":-20,"y":0.03},{"g":"WT","v":-10,"y":0.03},
{"g":"F846S","v":-130,"y":0.98},{"g":"F846S","v":-120,"y":0.98},{"g":"F846S","v":-110,"y":0.98},{"g":"F846S","v":-100,"y":0.98,"e":0.02},{"g":"F846S","v":-90,"y":0.97},{"g":"F846S","v":-80,"y":0.92},{"g":"F846S","v":-70,"y":0.7,"e":0.03},{"g":"F846S","v":-60,"y":0.28},{"g":"F846S","v":-50,"y":0.07},{"g":"F846S","v":-40,"y":0.02},{"g":"F846S","v":-30,"y":0.02},{"g":"F846S","v":-20,"y":0.02},{"g":"F846S","v":-10,"y":0.02},
{"g":"L840P","v":-130,"y":0.97},{"g":"L840P","v":-120,"y":0.97},{"g":"L840P","v":-110,"y":0.97},{"g":"L840P","v":-100,"y":0.97},{"g":"L840P","v":-90,"y":0.96},{"g":"L840P","v":-80,"y":0.91},{"g":"L840P","v":-70,"y":0.68},{"g":"L840P","v":-60,"y":0.27},{"g":"L840P","v":-50,"y":0.07},{"g":"L840P","v":-40,"y":0.03},{"g":"L840P","v":-30,"y":0.03},{"g":"L840P","v":-20,"y":0.03},{"g":"L840P","v":-10,"y":0.03},
{"g":"N1877S","v":-130,"y":0.98},{"g":"N1877S","v":-120,"y":0.98},{"g":"N1877S","v":-110,"y":0.98},{"g":"N1877S","v":-100,"y":0.98},{"g":"N1877S","v":-90,"y":0.98},{"g":"N1877S","v":-80,"y":0.94},{"g":"N1877S","v":-70,"y":0.8,"e":0.03},{"g":"N1877S","v":-60,"y":0.47,"e":0.03},{"g":"N1877S","v":-50,"y":0.17,"e":0.02},{"g":"N1877S","v":-40,"y":0.07},{"g":"N1877S","v":-30,"y":0.05},{"g":"N1877S","v":-20,"y":0.04},{"g":"N1877S","v":-10,"y":0.04},
{"g":"N374K","v":-130,"y":0.97},{"g":"N374K","v":-120,"y":0.97},{"g":"N374K","v":-110,"y":0.97},{"g":"N374K","v":-100,"y":0.97},{"g":"N374K","v":-90,"y":0.97},{"g":"N374K","v":-80,"y":0.93},{"g":"N374K","v":-70,"y":0.78,"e":0.03},{"g":"N374K","v":-60,"y":0.4,"e":0.03},{"g":"N374K","v":-50,"y":0.13},{"g":"N374K","v":-40,"y":0.05},{"g":"N374K","v":-30,"y":0.04},{"g":"N374K","v":-20,"y":0.04},{"g":"N374K","v":-10,"y":0.04},
{"g":"V1758A","v":-130,"y":0.9,"e":0.03},{"g":"V1758A","v":-120,"y":0.93},{"g":"V1758A","v":-110,"y":0.93},{"g":"V1758A","v":-100,"y":0.93,"e":0.02},{"g":"V1758A","v":-90,"y":0.92},{"g":"V1758A","v":-80,"y":0.92,"e":0.03},{"g":"V1758A","v":-70,"y":0.86,"e":0.02},{"g":"V1758A","v":-60,"y":0.57,"e":0.04},{"g":"V1758A","v":-50,"y":0.28,"e":0.03},{"g":"V1758A","v":-40,"y":0.14,"e":0.02},{"g":"V1758A","v":-30,"y":0.12,"e":0.02},{"g":"V1758A","v":-20,"y":0.11,"e":0.02},{"g":"V1758A","v":-10,"y":0.11,"e":0.02},
{"g":"T1787P","v":-130,"y":0.94},{"g":"T1787P","v":-120,"y":0.94},{"g":"T1787P","v":-110,"y":0.94},{"g":"T1787P","v":-100,"y":0.88},{"g":"T1787P","v":-90,"y":0.78},{"g":"T1787P","v":-80,"y":0.54},{"g":"T1787P","v":-70,"y":0.27},{"g":"T1787P","v":-60,"y":0.16},{"g":"T1787P","v":-50,"y":0.1},{"g":"T1787P","v":-40,"y":0.06},{"g":"T1787P","v":-30,"y":0.05},{"g":"T1787P","v":-20,"y":0.05},{"g":"T1787P","v":-10,"y":0.05}
],
"rec":[
{"g":"V1758A","t":0.08,"y":0.17,"e":0.04},{"g":"V1758A","t":0.15,"y":0.19,"e":0.06},{"g":"V1758A","t":0.24,"y":0.18,"e":0.04},{"g":"V1758A","t":0.3,"y":0.19,"e":0.04},{"g":"V1758A","t":0.38,"y":0.19,"e":0.04},{"g":"V1758A","t":0.5,"y":0.21,"e":0.04},{"g":"V1758A","t":0.8,"y":0.22,"e":0.04},{"g":"V1758A","t":1.28,"y":0.3,"e":0.03},{"g":"V1758A","t":2,"y":0.44,"e":0.03},{"g":"V1758A","t":2.8,"y":0.52,"e":0.03},{"g":"V1758A","t":3.7,"y":0.65,"e":0.04},{"g":"V1758A","t":5,"y":0.72,"e":0.03},{"g":"V1758A","t":6.4,"y":0.78,"e":0.03},{"g":"V1758A","t":8,"y":0.81,"e":0.03},{"g":"V1758A","t":10.4,"y":0.85},{"g":"V1758A","t":13.7,"y":0.88},{"g":"V1758A","t":19,"y":0.89},{"g":"V1758A","t":25,"y":0.9},{"g":"V1758A","t":33,"y":0.92},{"g":"V1758A","t":40,"y":0.92},
{"g":"T1787P","t":0.08,"y":0.12,"e":0.02},{"g":"T1787P","t":0.15,"y":0.12,"e":0.02},{"g":"T1787P","t":0.24,"y":0.12},{"g":"T1787P","t":0.3,"y":0.12},{"g":"T1787P","t":0.38,"y":0.13},{"g":"T1787P","t":0.5,"y":0.14},{"g":"T1787P","t":0.8,"y":0.15,"e":0.02},{"g":"T1787P","t":1.28,"y":0.28,"e":0.03},{"g":"T1787P","t":2,"y":0.45,"e":0.03},{"g":"T1787P","t":2.8,"y":0.56,"e":0.04},{"g":"T1787P","t":3.7,"y":0.67,"e":0.03},{"g":"T1787P","t":5,"y":0.73,"e":0.03},{"g":"T1787P","t":6.4,"y":0.8,"e":0.02},{"g":"T1787P","t":8,"y":0.84},{"g":"T1787P","t":10.4,"y":0.88},{"g":"T1787P","t":13.7,"y":0.91},{"g":"T1787P","t":19,"y":0.93},{"g":"T1787P","t":25,"y":0.95},{"g":"T1787P","t":33,"y":0.96},{"g":"T1787P","t":40,"y":0.96},
{"g":"N1877S","t":0.08,"y":0.09},{"g":"N1877S","t":0.15,"y":0.08},{"g":"N1877S","t":0.24,"y":0.08},{"g":"N1877S","t":0.3,"y":0.08},{"g":"N1877S","t":0.38,"y":0.08},{"g":"N1877S","t":0.5,"y":0.09},{"g":"N1877S","t":0.8,"y":0.1},{"g":"N1877S","t":1.28,"y":0.15},{"g":"N1877S","t":2,"y":0.25},{"g":"N1877S","t":2.8,"y":0.34},{"g":"N1877S","t":3.7,"y":0.45},{"g":"N1877S","t":5,"y":0.55,"e":0.02},{"g":"N1877S","t":6.4,"y":0.65},{"g":"N1877S","t":8,"y":0.74},{"g":"N1877S","t":10.4,"y":0.81},{"g":"N1877S","t":13.7,"y":0.86},{"g":"N1877S","t":19,"y":0.92},{"g":"N1877S","t":25,"y":0.95},{"g":"N1877S","t":33,"y":0.96},{"g":"N1877S","t":40,"y":0.97},
{"g":"N374K","t":0.08,"y":0.07},{"g":"N374K","t":0.15,"y":0.07},{"g":"N374K","t":0.24,"y":0.07},{"g":"N374K","t":0.3,"y":0.07},{"g":"N374K","t":0.38,"y":0.07},{"g":"N374K","t":0.5,"y":0.08},{"g":"N374K","t":0.8,"y":0.1},{"g":"N374K","t":1.28,"y":0.18},{"g":"N374K","t":2,"y":0.3},{"g":"N374K","t":2.8,"y":0.42,"e":0.02},{"g":"N374K","t":3.7,"y":0.52,"e":0.03},{"g":"N374K","t":5,"y":0.62,"e":0.03},{"g":"N374K","t":6.4,"y":0.71,"e":0.02},{"g":"N374K","t":8,"y":0.78},{"g":"N374K","t":10.4,"y":0.84},{"g":"N374K","t":13.7,"y":0.89},{"g":"N374K","t":19,"y":0.93},{"g":"N374K","t":25,"y":0.95},{"g":"N374K","t":33,"y":0.96},{"g":"N374K","t":40,"y":0.97},
{"g":"WT","t":0.08,"y":0.05},{"g":"WT","t":0.15,"y":0.05},{"g":"WT","t":0.24,"y":0.05},{"g":"WT","t":0.3,"y":0.05},{"g":"WT","t":0.38,"y":0.05},{"g":"WT","t":0.5,"y":0.06},{"g":"WT","t":0.8,"y":0.07},{"g":"WT","t":1.28,"y":0.12},{"g":"WT","t":2,"y":0.22},{"g":"WT","t":2.8,"y":0.33},{"g":"WT","t":3.7,"y":0.44},{"g":"WT","t":5,"y":0.56},{"g":"WT","t":6.4,"y":0.67},{"g":"WT","t":8,"y":0.75},{"g":"WT","t":10.4,"y":0.81},{"g":"WT","t":13.7,"y":0.87},{"g":"WT","t":19,"y":0.92},{"g":"WT","t":25,"y":0.95},{"g":"WT","t":33,"y":0.97},{"g":"WT","t":40,"y":0.97},
{"g":"F846S","t":0.08,"y":0.03},{"g":"F846S","t":0.15,"y":0.03},{"g":"F846S","t":0.24,"y":0.03},{"g":"F846S","t":0.3,"y":0.03},{"g":"F846S","t":0.38,"y":0.03},{"g":"F846S","t":0.5,"y":0.04},{"g":"F846S","t":0.8,"y":0.05},{"g":"F846S","t":1.28,"y":0.1,"e":0.02},{"g":"F846S","t":2,"y":0.21},{"g":"F846S","t":2.8,"y":0.33},{"g":"F846S","t":3.7,"y":0.44},{"g":"F846S","t":5,"y":0.56},{"g":"F846S","t":6.4,"y":0.67},{"g":"F846S","t":8,"y":0.75},{"g":"F846S","t":10.4,"y":0.81},{"g":"F846S","t":13.7,"y":0.87},{"g":"F846S","t":19,"y":0.92},{"g":"F846S","t":25,"y":0.95},{"g":"F846S","t":33,"y":0.97},{"g":"F846S","t":40,"y":0.97},
{"g":"L840P","t":0.08,"y":0.04},{"g":"L840P","t":0.15,"y":0.04},{"g":"L840P","t":0.24,"y":0.04},{"g":"L840P","t":0.3,"y":0.04},{"g":"L840P","t":0.38,"y":0.04},{"g":"L840P","t":0.5,"y":0.05},{"g":"L840P","t":0.8,"y":0.07},{"g":"L840P","t":1.28,"y":0.12},{"g":"L840P","t":2,"y":0.24},{"g":"L840P","t":2.8,"y":0.35},{"g":"L840P","t":3.7,"y":0.46},{"g":"L840P","t":5,"y":0.57},{"g":"L840P","t":6.4,"y":0.68},{"g":"L840P","t":8,"y":0.76},{"g":"L840P","t":10.4,"y":0.82},{"g":"L840P","t":13.7,"y":0.87},{"g":"L840P","t":19,"y":0.92},{"g":"L840P","t":25,"y":0.95},{"g":"L840P","t":33,"y":0.96},{"g":"L840P","t":40,"y":0.97}
],
"tau":[
{"g":"N1877S","v":-30,"y":3.3,"e":0.8},{"g":"N1877S","v":-25,"y":2.7,"e":0.5},{"g":"N1877S","v":-20,"y":1.7,"e":0.25},{"g":"N1877S","v":-15,"y":1.2,"e":0.1},{"g":"N1877S","v":-10,"y":1.0,"e":0.08},{"g":"N1877S","v":-5,"y":0.82,"e":0.06},{"g":"N1877S","v":0,"y":0.72,"e":0.05},{"g":"N1877S","v":5,"y":0.65},{"g":"N1877S","v":10,"y":0.6},{"g":"N1877S","v":15,"y":0.55},{"g":"N1877S","v":20,"y":0.52},{"g":"N1877S","v":25,"y":0.5},{"g":"N1877S","v":30,"y":0.48},{"g":"N1877S","v":35,"y":0.47},
{"g":"V1758A","v":-30,"y":3.25,"e":0.9},{"g":"V1758A","v":-25,"y":2.2,"e":0.2},{"g":"V1758A","v":-20,"y":1.5,"e":0.2},{"g":"V1758A","v":-15,"y":0.85,"e":0.08},{"g":"V1758A","v":-10,"y":0.65},{"g":"V1758A","v":-5,"y":0.55},{"g":"V1758A","v":0,"y":0.45},{"g":"V1758A","v":5,"y":0.4},{"g":"V1758A","v":10,"y":0.38},{"g":"V1758A","v":15,"y":0.36},{"g":"V1758A","v":20,"y":0.35},{"g":"V1758A","v":25,"y":0.34},{"g":"V1758A","v":30,"y":0.33},{"g":"V1758A","v":35,"y":0.32},
{"g":"WT","v":-30,"y":2.45,"e":0.25},{"g":"WT","v":-25,"y":1.58,"e":0.12},{"g":"WT","v":-20,"y":1.07,"e":0.06},{"g":"WT","v":-15,"y":0.82},{"g":"WT","v":-10,"y":0.7},{"g":"WT","v":-5,"y":0.6},{"g":"WT","v":0,"y":0.55},{"g":"WT","v":5,"y":0.5},{"g":"WT","v":10,"y":0.48},{"g":"WT","v":15,"y":0.46},{"g":"WT","v":20,"y":0.45},{"g":"WT","v":25,"y":0.44},{"g":"WT","v":30,"y":0.43},{"g":"WT","v":35,"y":0.42},
{"g":"N374K","v":-30,"y":2.2,"e":0.2},{"g":"N374K","v":-25,"y":1.45,"e":0.1},{"g":"N374K","v":-20,"y":1.02},{"g":"N374K","v":-15,"y":0.78},{"g":"N374K","v":-10,"y":0.66},{"g":"N374K","v":-5,"y":0.58},{"g":"N374K","v":0,"y":0.52},{"g":"N374K","v":5,"y":0.48},{"g":"N374K","v":10,"y":0.45},{"g":"N374K","v":15,"y":0.43},{"g":"N374K","v":20,"y":0.42},{"g":"N374K","v":25,"y":0.41},{"g":"N374K","v":30,"y":0.4},{"g":"N374K","v":35,"y":0.4},
{"g":"L840P","v":-30,"y":1.95,"e":0.2},{"g":"L840P","v":-25,"y":1.35,"e":0.1},{"g":"L840P","v":-20,"y":0.95},{"g":"L840P","v":-15,"y":0.75},{"g":"L840P","v":-10,"y":0.62},{"g":"L840P","v":-5,"y":0.55},{"g":"L840P","v":0,"y":0.5},{"g":"L840P","v":5,"y":0.46},{"g":"L840P","v":10,"y":0.44},{"g":"L840P","v":15,"y":0.42},{"g":"L840P","v":20,"y":0.41},{"g":"L840P","v":25,"y":0.4},{"g":"L840P","v":30,"y":0.39},{"g":"L840P","v":35,"y":0.39},
{"g":"F846S","v":-30,"y":1.35,"e":0.12},{"g":"F846S","v":-25,"y":1.05,"e":0.06},{"g":"F846S","v":-20,"y":0.82},{"g":"F846S","v":-15,"y":0.7},{"g":"F846S","v":-10,"y":0.6},{"g":"F846S","v":-5,"y":0.53},{"g":"F846S","v":0,"y":0.48},{"g":"F846S","v":5,"y":0.45},{"g":"F846S","v":10,"y":0.42},{"g":"F846S","v":15,"y":0.41},{"g":"F846S","v":20,"y":0.4},{"g":"F846S","v":25,"y":0.39},{"g":"F846S","v":30,"y":0.38},{"g":"F846S","v":35,"y":0.38},
{"g":"T1787P","v":-30,"y":0.72,"e":0.2},{"g":"T1787P","v":-25,"y":0.5},{"g":"T1787P","v":-20,"y":0.45},{"g":"T1787P","v":-15,"y":0.4},{"g":"T1787P","v":-10,"y":0.37},{"g":"T1787P","v":-5,"y":0.35},{"g":"T1787P","v":0,"y":0.33},{"g":"T1787P","v":5,"y":0.32},{"g":"T1787P","v":10,"y":0.31},{"g":"T1787P","v":15,"y":0.3},{"g":"T1787P","v":20,"y":0.3},{"g":"T1787P","v":25,"y":0.3},{"g":"T1787P","v":30,"y":0.29},{"g":"T1787P","v":35,"y":0.29}
]
},
"concat":[
 {"title":{"text":"WT","anchor":"middle","fontSize":13,"fontWeight":"normal","dx":-36.5,"offset":-1},"width":215,"height":30.6,
  "encoding":{"x":{"field":"t","type":"quantitative","scale":{"domain":[3.276,26.37],"nice":false,"zero":false},"axis":null},"y":{"field":"i","type":"quantitative","scale":{"domain":[-635.3,264.7],"nice":false,"zero":false},"axis":null},"color":{"field":"g","type":"nominal","scale":{"domain":["WT","F846S","L840P","N1877S","N374K","V1758A","T1787P","I1654N"],"range":["#1a1a1a","#e0281f","#f2b01e","#8a2be2","#3fcfd6","#1f9a2a","#86841a","#2994cc"]},"legend":null}},
  "layer":[{"data":{"name":"base"},"transform":[{"filter":"datum.g=='WT'"}],"mark":{"type":"rule","strokeWidth":2.4},"encoding":{"x2":{"field":"t2"}}},
   {"data":{"name":"tr"},"transform":[{"filter":"datum.g=='WT'"}],"mark":{"type":"line","strokeWidth":0.8,"interpolate":"monotone"},"encoding":{"detail":{"field":"k"}}}]},
 {"title":{"text":"F846S","anchor":"middle","fontSize":13,"fontWeight":"normal","dx":-47.5,"offset":-1},"width":210.9,"height":30.6,
  "encoding":{"x":{"field":"t","type":"quantitative","scale":{"domain":[4.672,27.325],"nice":false,"zero":false},"axis":null},"y":{"field":"i","type":"quantitative","scale":{"domain":[-635.3,264.7],"nice":false,"zero":false},"axis":null},"color":{"field":"g","type":"nominal","scale":{"domain":["WT","F846S","L840P","N1877S","N374K","V1758A","T1787P","I1654N"],"range":["#1a1a1a","#e0281f","#f2b01e","#8a2be2","#3fcfd6","#1f9a2a","#86841a","#2994cc"]},"legend":null}},
  "layer":[{"data":{"name":"base"},"transform":[{"filter":"datum.g=='F846S'"}],"mark":{"type":"rule","strokeWidth":2.4},"encoding":{"x2":{"field":"t2"}}},
   {"data":{"name":"tr"},"transform":[{"filter":"datum.g=='F846S'"}],"mark":{"type":"line","strokeWidth":0.8,"interpolate":"monotone"},"encoding":{"detail":{"field":"k"}}}]},
 {"title":{"text":"L840P","anchor":"middle","fontSize":13,"fontWeight":"normal","dx":-48.5,"offset":-1},"width":213.2,"height":30.6,
  "encoding":{"x":{"field":"t","type":"quantitative","scale":{"domain":[4.662,27.562],"nice":false,"zero":false},"axis":null},"y":{"field":"i","type":"quantitative","scale":{"domain":[-635.3,264.7],"nice":false,"zero":false},"axis":null},"color":{"field":"g","type":"nominal","scale":{"domain":["WT","F846S","L840P","N1877S","N374K","V1758A","T1787P","I1654N"],"range":["#1a1a1a","#e0281f","#f2b01e","#8a2be2","#3fcfd6","#1f9a2a","#86841a","#2994cc"]},"legend":null}},
  "layer":[{"data":{"name":"base"},"transform":[{"filter":"datum.g=='L840P'"}],"mark":{"type":"rule","strokeWidth":2.4},"encoding":{"x2":{"field":"t2"}}},
   {"data":{"name":"tr"},"transform":[{"filter":"datum.g=='L840P'"}],"mark":{"type":"line","strokeWidth":0.8,"interpolate":"monotone"},"encoding":{"detail":{"field":"k"}}}]},
 {"title":{"text":"N1877S","anchor":"middle","fontSize":13,"fontWeight":"normal","dx":-36.5,"offset":-1},"width":215,"height":30.6,
  "encoding":{"x":{"field":"t","type":"quantitative","scale":{"domain":[3.276,26.37],"nice":false,"zero":false},"axis":null},"y":{"field":"i","type":"quantitative","scale":{"domain":[-635.3,264.7],"nice":false,"zero":false},"axis":null},"color":{"field":"g","type":"nominal","scale":{"domain":["WT","F846S","L840P","N1877S","N374K","V1758A","T1787P","I1654N"],"range":["#1a1a1a","#e0281f","#f2b01e","#8a2be2","#3fcfd6","#1f9a2a","#86841a","#2994cc"]},"legend":null}},
  "layer":[{"data":{"name":"base"},"transform":[{"filter":"datum.g=='N1877S'"}],"mark":{"type":"rule","strokeWidth":2.4},"encoding":{"x2":{"field":"t2"}}},
   {"data":{"name":"tr"},"transform":[{"filter":"datum.g=='N1877S'"}],"mark":{"type":"line","strokeWidth":0.8,"interpolate":"monotone"},"encoding":{"detail":{"field":"k"}}}]},
 {"title":{"text":"N374K","anchor":"middle","fontSize":13,"fontWeight":"normal","dx":-47.5,"offset":-1},"width":210.9,"height":30.6,
  "encoding":{"x":{"field":"t","type":"quantitative","scale":{"domain":[4.672,27.325],"nice":false,"zero":false},"axis":null},"y":{"field":"i","type":"quantitative","scale":{"domain":[-635.3,264.7],"nice":false,"zero":false},"axis":null},"color":{"field":"g","type":"nominal","scale":{"domain":["WT","F846S","L840P","N1877S","N374K","V1758A","T1787P","I1654N"],"range":["#1a1a1a","#e0281f","#f2b01e","#8a2be2","#3fcfd6","#1f9a2a","#86841a","#2994cc"]},"legend":null}},
  "layer":[{"data":{"name":"base"},"transform":[{"filter":"datum.g=='N374K'"}],"mark":{"type":"rule","strokeWidth":2.4},"encoding":{"x2":{"field":"t2"}}},
   {"data":{"name":"tr"},"transform":[{"filter":"datum.g=='N374K'"}],"mark":{"type":"line","strokeWidth":0.8,"interpolate":"monotone"},"encoding":{"detail":{"field":"k"}}}]},
 {"title":{"text":"V1758A","anchor":"middle","fontSize":13,"fontWeight":"normal","dx":-48.5,"offset":-1},"width":213.2,"height":30.6,
  "encoding":{"x":{"field":"t","type":"quantitative","scale":{"domain":[4.662,27.562],"nice":false,"zero":false},"axis":null},"y":{"field":"i","type":"quantitative","scale":{"domain":[-635.3,264.7],"nice":false,"zero":false},"axis":null},"color":{"field":"g","type":"nominal","scale":{"domain":["WT","F846S","L840P","N1877S","N374K","V1758A","T1787P","I1654N"],"range":["#1a1a1a","#e0281f","#f2b01e","#8a2be2","#3fcfd6","#1f9a2a","#86841a","#2994cc"]},"legend":null}},
  "layer":[{"data":{"name":"base"},"transform":[{"filter":"datum.g=='V1758A'"}],"mark":{"type":"rule","strokeWidth":2.4},"encoding":{"x2":{"field":"t2"}}},
   {"data":{"name":"tr"},"transform":[{"filter":"datum.g=='V1758A'"}],"mark":{"type":"line","strokeWidth":0.8,"interpolate":"monotone"},"encoding":{"detail":{"field":"k"}}}]},
 {"title":{"text":"T1787P","anchor":"middle","fontSize":13,"fontWeight":"normal","dx":-36.5,"offset":-1},"width":215,"height":9.6,
  "encoding":{"x":{"field":"t","type":"quantitative","scale":{"domain":[3.276,26.37],"nice":false,"zero":false},"axis":null},"y":{"field":"i","type":"quantitative","scale":{"domain":[-17.7,264.7],"nice":false,"zero":false},"axis":null},"color":{"field":"g","type":"nominal","scale":{"domain":["WT","F846S","L840P","N1877S","N374K","V1758A","T1787P","I1654N"],"range":["#1a1a1a","#e0281f","#f2b01e","#8a2be2","#3fcfd6","#1f9a2a","#86841a","#2994cc"]},"legend":null}},
  "layer":[{"data":{"name":"base"},"transform":[{"filter":"datum.g=='T1787P'"}],"mark":{"type":"rule","strokeWidth":2.4},"encoding":{"x2":{"field":"t2"}}},
   {"data":{"name":"tr"},"transform":[{"filter":"datum.g=='T1787P'"}],"mark":{"type":"line","strokeWidth":0.8,"interpolate":"monotone"},"encoding":{"detail":{"field":"k"}}}]},
 {"title":{"text":"I1654N","anchor":"middle","fontSize":13,"fontWeight":"normal","dx":-47.5,"offset":-1},"width":210.9,"height":9.6,
  "encoding":{"x":{"field":"t","type":"quantitative","scale":{"domain":[4.672,27.325],"nice":false,"zero":false},"axis":null},"y":{"field":"i","type":"quantitative","scale":{"domain":[-17.7,264.7],"nice":false,"zero":false},"axis":null},"color":{"field":"g","type":"nominal","scale":{"domain":["WT","F846S","L840P","N1877S","N374K","V1758A","T1787P","I1654N"],"range":["#1a1a1a","#e0281f","#f2b01e","#8a2be2","#3fcfd6","#1f9a2a","#86841a","#2994cc"]},"legend":null}},
  "layer":[{"data":{"name":"base"},"transform":[{"filter":"datum.g=='I1654N'"}],"mark":{"type":"rule","strokeWidth":2.4},"encoding":{"x2":{"field":"t2"}}},
   {"data":{"name":"tr"},"transform":[{"filter":"datum.g=='I1654N'"}],"mark":{"type":"line","strokeWidth":0.8,"interpolate":"monotone"},"encoding":{"detail":{"field":"k"}}}]},
 {"width":213.2,"height":9.6,
  "layer":[
   {"data":{"name":"sb"},"mark":{"type":"rule","strokeWidth":1.5,"color":"black"},"encoding":{"x":{"field":"t","type":"quantitative","scale":{"domain":[4.662,27.562],"nice":false,"zero":false},"axis":null},"x2":{"field":"t2"},"y":{"field":"i","type":"quantitative","scale":{"domain":[-17.7,264.7],"nice":false,"zero":false},"axis":null},"y2":{"field":"i2"}}},
   {"data":{"name":"sbt"},"mark":{"type":"text","align":"left","baseline":"middle","fontSize":11.5,"color":"black"},"encoding":{"x":{"field":"t","type":"quantitative","scale":{"domain":[4.662,27.562],"nice":false,"zero":false},"axis":null},"y":{"field":"i","type":"quantitative","scale":{"domain":[-17.7,264.7],"nice":false,"zero":false},"axis":null},"text":{"field":"label"}}}
  ]},
 {"title":{"text":"B","dx":-54.5,"offset":9},"width":204.8,"height":103.3,"data":{"name":"iv"},
  "encoding":{"x":{"field":"v","type":"quantitative","scale":{"domain":[-82,65],"nice":false,"zero":false},"axis":{"values":[-80,-60,-40,-20,0,20,40,60],"title":"Voltage (mV)","offset":3}},
   "y":{"field":"y","type":"quantitative","scale":{"domain":[-400,43],"nice":false,"zero":false},"axis":{"values":[-400,-300,-200,-100,0],"title":"Current density (pA/pF)"}},
   "color":{"field":"g","type":"nominal","scale":{"domain":["WT","F846S","L840P","N1877S","N374K","V1758A","T1787P","I1654N"],"range":["#1a1a1a","#e0281f","#f2b01e","#8a2be2","#3fcfd6","#1f9a2a","#86841a","#2994cc"]},"legend":null}},
  "layer":[
   {"transform":[{"filter":"datum.e>0"}],"mark":{"type":"errorbar","ticks":{"size":4},"thickness":0.8},"encoding":{"yError":{"field":"e"}}},
   {"mark":{"type":"line","strokeWidth":1},"encoding":{}},
   {"mark":{"type":"point","filled":false,"size":20,"strokeWidth":1,"opacity":1},"encoding":{"shape":{"field":"g","type":"nominal","scale":{"domain":["WT","F846S","L840P","N1877S","N374K","V1758A","T1787P","I1654N"],"range":["circle","diamond","M-0.75,-1L0.75,-1L-0.75,1L0.75,1Z","triangle-down","triangle-left","square","triangle-right","triangle-up"]},"legend":null}}}
  ]},
 {"title":{"text":"C","dx":-46.5,"offset":17.3},"width":209.5,"height":103.3,"data":{"name":"act"},
  "encoding":{"x":{"field":"v","type":"quantitative","scale":{"domain":[-82,40],"nice":false,"zero":false},"axis":{"values":[-80,-60,-40,-20,0,20,40],"title":"Voltage (mV)","offset":3}},
   "y":{"field":"y","type":"quantitative","scale":{"domain":[-0.01,1.023],"nice":false,"zero":false},"axis":{"values":[0,0.2,0.4,0.6,0.8,1.0],"labelExpr":"datum.value==0?'0':format(datum.value,'.1f')","title":"g/gₘₐₓ"}},
   "color":{"field":"g","type":"nominal","scale":{"domain":["WT","F846S","L840P","N1877S","N374K","V1758A","T1787P","I1654N"],"range":["#1a1a1a","#e0281f","#f2b01e","#8a2be2","#3fcfd6","#1f9a2a","#86841a","#2994cc"]},"legend":null}},
  "layer":[
   {"transform":[{"filter":"datum.e>0"}],"mark":{"type":"errorbar","ticks":{"size":4},"thickness":0.8},"encoding":{"yError":{"field":"e"}}},
   {"mark":{"type":"line","strokeWidth":1,"interpolate":"monotone"},"encoding":{}},
   {"mark":{"type":"point","filled":false,"size":20,"strokeWidth":1,"opacity":1},"encoding":{"shape":{"field":"g","type":"nominal","scale":{"domain":["WT","F846S","L840P","N1877S","N374K","V1758A","T1787P","I1654N"],"range":["circle","diamond","M-0.75,-1L0.75,-1L-0.75,1L0.75,1Z","triangle-down","triangle-left","square","triangle-right","triangle-up"]},"legend":null}}}
  ]},
 {"title":{"text":"D","dx":-40.4,"offset":16},"width":213.2,"height":103.3,"data":{"name":"inact"},
  "encoding":{"x":{"field":"v","type":"quantitative","scale":{"domain":[-134.7,0],"nice":false,"zero":false},"axis":{"values":[-120,-100,-80,-60,-40,-20,0],"title":"Voltage (mV)","offset":3}},
   "y":{"field":"y","type":"quantitative","scale":{"domain":[0,1],"nice":false,"zero":false},"axis":{"values":[0,0.2,0.4,0.6,0.8,1.0],"format":".1f","title":"I/Iₘₐₓ"}},
   "color":{"field":"g","type":"nominal","scale":{"domain":["WT","F846S","L840P","N1877S","N374K","V1758A","T1787P","I1654N"],"range":["#1a1a1a","#e0281f","#f2b01e","#8a2be2","#3fcfd6","#1f9a2a","#86841a","#2994cc"]},"legend":null}},
  "layer":[
   {"transform":[{"filter":"datum.e>0"}],"mark":{"type":"errorbar","ticks":{"size":4},"thickness":0.8},"encoding":{"yError":{"field":"e"}}},
   {"mark":{"type":"line","strokeWidth":1,"interpolate":"monotone"},"encoding":{}},
   {"mark":{"type":"point","filled":false,"size":20,"strokeWidth":1,"opacity":1},"encoding":{"shape":{"field":"g","type":"nominal","scale":{"domain":["WT","F846S","L840P","N1877S","N374K","V1758A","T1787P","I1654N"],"range":["circle","diamond","M-0.75,-1L0.75,-1L-0.75,1L0.75,1Z","triangle-down","triangle-left","square","triangle-right","triangle-up"]},"legend":null}}}
  ]},
 {"title":{"text":"E","dx":-54.5,"offset":5.7},"width":206.2,"height":109,"data":{"name":"rec"},
  "encoding":{"x":{"field":"t","type":"quantitative","scale":{"type":"log","domain":[0.049,42],"nice":false},"axis":{"values":[0.05,0.06,0.07,0.08,0.09,0.1,0.2,0.3,0.4,0.5,0.6,0.7,0.8,0.9,1,2,3,4,5,6,7,8,9,10,20,30,40],"labelExpr":"datum.value==0.1?'0.1':datum.value==1?'1':datum.value==10?'10':''","tickSize":{"condition":{"test":"datum.value==0.1||datum.value==1||datum.value==10","value":5},"value":3},"title":"Time (ms)","offset":3}},
   "y":{"field":"y","type":"quantitative","scale":{"domain":[0,1],"nice":false,"zero":false},"axis":{"values":[0,0.2,0.4,0.6,0.8,1.0],"format":".1f","title":"Fraction recovered"}},
   "color":{"field":"g","type":"nominal","scale":{"domain":["WT","F846S","L840P","N1877S","N374K","V1758A","T1787P","I1654N"],"range":["#1a1a1a","#e0281f","#f2b01e","#8a2be2","#3fcfd6","#1f9a2a","#86841a","#2994cc"]},"legend":null}},
  "layer":[
   {"transform":[{"filter":"datum.e>0"}],"mark":{"type":"errorbar","ticks":{"size":4},"thickness":0.8},"encoding":{"yError":{"field":"e"}}},
   {"mark":{"type":"line","strokeWidth":1,"interpolate":"monotone"},"encoding":{}},
   {"mark":{"type":"point","filled":false,"size":20,"strokeWidth":1,"opacity":1},"encoding":{"shape":{"field":"g","type":"nominal","scale":{"domain":["WT","F846S","L840P","N1877S","N374K","V1758A","T1787P","I1654N"],"range":["circle","diamond","M-0.75,-1L0.75,-1L-0.75,1L0.75,1Z","triangle-down","triangle-left","square","triangle-right","triangle-up"]},"legend":null}}}
  ]},
 {"title":{"text":"F","dx":-35.5,"offset":10.8},"width":210.9,"height":109,"data":{"name":"tau"},
  "encoding":{"x":{"field":"v","type":"quantitative","scale":{"domain":[-36.7,40],"nice":false,"zero":false},"axis":{"values":[-20,0,20,40],"title":"Voltage (mV)","offset":3}},
   "y":{"field":"y","type":"quantitative","scale":{"domain":[0,5.45],"nice":false,"zero":false},"axis":{"values":[0,1,2,3,4,5],"title":"τₕ (ms)"}},
   "color":{"field":"g","type":"nominal","scale":{"domain":["WT","F846S","L840P","N1877S","N374K","V1758A","T1787P","I1654N"],"range":["#1a1a1a","#e0281f","#f2b01e","#8a2be2","#3fcfd6","#1f9a2a","#86841a","#2994cc"]},"legend":null}},
  "layer":[
   {"transform":[{"filter":"datum.e>0"}],"mark":{"type":"errorbar","ticks":{"size":4},"thickness":0.8},"encoding":{"yError":{"field":"e"}}},
   {"mark":{"type":"line","strokeWidth":1},"encoding":{}},
   {"mark":{"type":"point","filled":false,"size":20,"strokeWidth":1,"opacity":1},"encoding":{"shape":{"field":"g","type":"nominal","scale":{"domain":["WT","F846S","L840P","N1877S","N374K","V1758A","T1787P","I1654N"],"range":["circle","diamond","M-0.75,-1L0.75,-1L-0.75,1L0.75,1Z","triangle-down","triangle-left","square","triangle-right","triangle-up"]},"legend":null}}}
  ]},
 {"width":100,"height":104.3,"data":{"name":"names"},
  "encoding":{"y":{"field":"g","type":"nominal","scale":{"type":"point","domain":["WT","F846S","L840P","N1877S","N374K","V1758A","T1787P","I1654N"],"padding":0},"axis":null},
   "color":{"field":"g","type":"nominal","scale":{"domain":["WT","F846S","L840P","N1877S","N374K","V1758A","T1787P","I1654N"],"range":["#1a1a1a","#e0281f","#f2b01e","#8a2be2","#3fcfd6","#1f9a2a","#86841a","#2994cc"]},"legend":null}},
  "layer":[
   {"mark":{"type":"tick","orient":"horizontal","size":17,"thickness":1},"encoding":{"x":{"datum":56.6,"type":"quantitative","scale":{"domain":[0,100],"nice":false,"zero":false},"axis":null}}},
   {"mark":{"type":"point","filled":false,"size":34,"strokeWidth":1,"opacity":1},"encoding":{"x":{"datum":56.6,"type":"quantitative"},"shape":{"field":"g","type":"nominal","scale":{"domain":["WT","F846S","L840P","N1877S","N374K","V1758A","T1787P","I1654N"],"range":["circle","diamond","M-0.75,-1L0.75,-1L-0.75,1L0.75,1Z","triangle-down","triangle-left","square","triangle-right","triangle-up"]},"legend":null}}},
   {"mark":{"type":"text","align":"left","baseline":"middle","fontSize":13.5},"encoding":{"x":{"datum":76.6,"type":"quantitative"},"text":{"field":"g"},"color":{"value":"black"}}}
  ]}
]
}
